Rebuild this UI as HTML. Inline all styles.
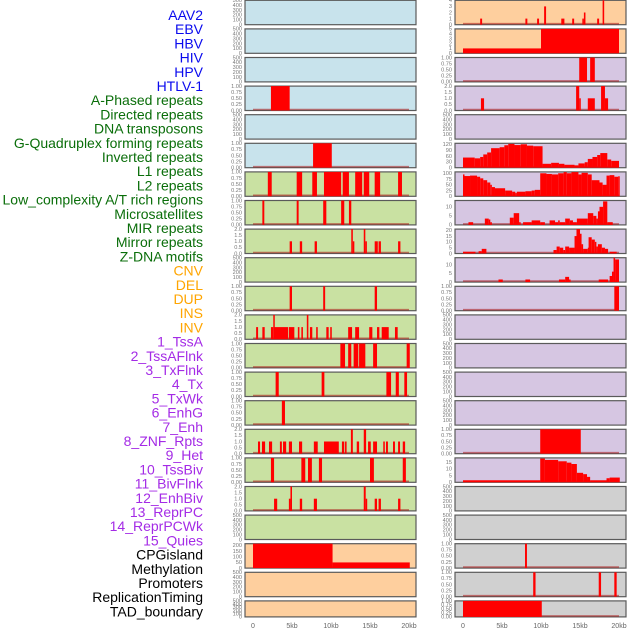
<!DOCTYPE html>
<html><head><meta charset="utf-8"><style>
html,body{margin:0;padding:0;background:#fff;}
svg{display:block;}
text{font-family:"Liberation Sans",sans-serif;}
</style></head><body>
<svg id="chart" width="630" height="630" viewBox="0 0 630 630"></svg>
<script>
const trackLabels = ["AAV2","EBV","HBV","HIV","HPV","HTLV-1","A-Phased repeats","Directed repeats","DNA transposons","G-Quadruplex forming repeats","Inverted repeats","L1 repeats","L2 repeats","Low_complexity A/T rich regions","Microsatellites","MIR repeats","Mirror repeats","Z-DNA motifs","CNV","DEL","DUP","INS","INV","1_TssA","2_TssAFlnk","3_TxFlnk","4_Tx","5_TxWk","6_EnhG","7_Enh","8_ZNF_Rpts","9_Het","10_TssBiv","11_BivFlnk","12_EnhBiv","13_ReprPC","14_ReprPCWk","15_Quies","CPGisland","Methylation","Promoters","ReplicationTiming","TAD_boundary"];
const labelGroups = [6,12,5,15,5];
const xTickLabels = ["0","5kb","10kb","15kb","20kb"];
const xTickValues = [0,5,10,15,20];

const L0=[],L1=[],L2=[],L4=[],L9=[],L18=[],L20=[],L21=[];
const L3=[[2.3,4.7,1]];
const L5=[[7.7,10.1,1]];
const L6=[[1.9,2.4,1],[5.6,6.3,1],[7.6,8.2,1],[9.1,11.3,1],[11.5,12.3,1],[13.1,14.0,1],[14.2,14.9,1],[15.6,16.3,1],[18.6,19.1,1]];
const L7=[[1.2,1.45,1],[5.6,5.85,1],[9.0,9.4,1],[11.3,11.7,1],[12.3,12.6,1]];
const L8=[[4.7,5.0,1],[6.0,6.3,1],[7.9,8.2,1],[12.6,12.8,2],[12.8,12.95,1],[14.2,14.4,2],[14.4,14.6,1],[15.6,16.0,1],[16.1,16.4,1],[18.6,18.9,1]];
const L10=[[4.7,5.0,1],[9.0,9.25,1],[15.6,15.9,1]];
const L11=[[0.4,0.65,1],[1.2,1.5,1],[2.3,2.6,1],[2.6,2.75,2],[2.75,4.5,1],[4.6,5.3,1],[5.75,5.95,1],[6.2,6.4,1],[6.9,7.1,2],[7.3,7.6,1],[8.1,8.3,1],[9.4,9.7,1],[9.9,10.1,1],[12.2,12.7,1],[13.1,13.6,1],[14.9,15.3,1],[15.9,16.2,1],[16.5,17.4,1],[18.2,18.55,1]];
const L12=[[11.2,11.8,1],[12.2,12.6,1],[12.9,13.5,1],[13.6,14.4,1],[15.4,15.9,1],[19.7,20.1,1]];
const L13=[[2.9,3.3,1],[8.8,9.15,1],[17.1,17.7,1],[18.3,18.7,1],[19.4,19.75,1]];
const L14=[[3.7,4.1,1]];
const L15=[[0.64,0.9,1],[1.15,1.55,1],[2.05,2.45,1],[3.45,3.7,1],[3.85,4.25,1],[4.6,5.0,1],[5.9,6.3,1],[7.8,8.3,1],[9.1,11.0,1],[11.4,11.7,1],[11.8,12.0,1],[12.55,12.8,2],[13.3,13.6,1],[14.2,14.5,2],[14.75,15.1,1],[15.4,15.9,1],[16.7,16.9,1],[17.05,17.3,1],[17.95,18.2,1],[18.6,18.85,1],[19.2,19.5,1]];
const L16=[[2.3,2.7,1],[6.2,6.7,1],[7.05,7.55,1],[8.45,8.85,1],[15.0,15.5,1],[19.2,19.6,1]];
const L17=[[2.7,3.1,1],[4.6,4.8,1],[4.8,5.0,2],[6.0,6.3,1],[7.8,8.2,1],[14.2,14.45,2],[14.45,14.6,1],[15.6,15.9,1],[16.1,16.4,1],[18.6,18.9,1]];
const L19=[[0,10.2,215],[10.2,20.1,50]];

const R4=[],R11=[],R12=[],R13=[],R14=[],R17=[],R18=[];
const R0=[[2.2,2.45,1],[8.0,8.25,1],[9.5,9.75,1],[10.4,10.65,3],[12.6,13.0,1],[14.0,14.25,1],[15.3,15.5,1],[15.5,15.7,2],[17.2,17.45,1],[17.9,18.1,4]];
const R1=[[0,10,1],[10,20,5]];
const R2=[[14.9,15.9,1],[16.3,16.9,1]];
const R3=[[2.3,2.7,1],[14.5,14.9,2],[14.9,15.1,1],[16.0,16.9,1],[17.7,18.2,2],[18.2,18.6,1]];
const R5steps=[[0,52],[1.5,48],[2.2,55],[2.6,68],[3.1,78],[3.6,100],[4.7,105],[5.3,115],[5.8,122],[6.6,116],[7.4,120],[8.2,113],[9.0,110],[10.2,20],[11.3,25],[12.3,20],[13.0,15],[14.3,12],[14.8,22],[15.6,28],[16.0,45],[16.6,55],[17.2,65],[17.6,75],[18.5,42],[19.0,35]];
const R6steps=[[0,95],[0.1,88],[0.9,90],[1.8,85],[2.2,78],[2.6,70],[3.1,60],[3.5,50],[3.7,40],[4.1,35],[5.4,25],[6.3,20],[6.7,15],[6.9,20],[8.0,22],[8.8,25],[9.2,28],[9.9,100],[10.7,97],[11.4,95],[12.2,100],[12.9,105],[13.3,100],[13.9,105],[14.8,95],[15.2,102],[16.0,95],[16.5,70],[17.5,60],[17.9,50],[18.4,90],[18.8,92],[19.4,85],[19.9,87]];
const R7=[[0.7,1.3,1.5],[2.8,3.3,3.5],[3.3,3.5,3],[3.5,3.7,1.5],[6.0,6.5,4],[6.5,7.2,6.5],[7.2,7.3,1.5],[7.7,8.8,1.5],[8.8,9.9,2.5],[9.9,10.5,1.5],[11.1,11.8,2.5],[11.8,12.2,1.5],[12.2,12.4,2.5],[12.4,13.1,1.5],[13.1,13.7,3.5],[13.7,14.1,2.5],[14.1,14.6,1.5],[14.6,16.0,3.5],[16.0,16.7,6.5],[16.7,17.1,5],[17.1,17.3,3.5],[17.3,17.5,7.5],[17.5,17.96,10],[17.96,18.5,13],[18.5,19.2,1.5]];
const R8=[[0,1.6,1.5],[2.0,2.4,2],[2.4,3.0,4],[11.6,12.0,3],[12.0,12.4,6],[12.4,12.85,5],[12.85,13.1,3],[13.1,13.6,6],[13.6,14.3,5],[14.3,14.55,15],[14.55,15.0,21],[15.0,15.2,17],[15.2,15.4,8],[15.4,16.0,4],[16.0,16.1,5],[16.1,16.5,14],[16.5,16.9,12],[16.9,17.1,10],[17.1,17.3,6],[17.3,17.8,8],[17.8,18.2,5],[18.2,18.6,4],[18.8,19.7,1.5]];
const R9=[[4.55,5.1,1.5],[8.0,8.6,1.5],[12.3,13.1,1.5],[13.1,13.6,3],[13.6,13.7,1.5],[17.4,18.6,1.5],[18.8,19.1,3.5],[19.1,19.3,6],[19.3,19.5,14],[19.5,20,13]];
const R10=[[19.4,20,1]];
const R15=[[9.9,15.1,1]];
const R16=[[0,9.9,1.5],[9.9,10.5,17.5],[10.5,12.2,16.5],[12.2,13.3,15.5],[13.3,13.9,14.5],[13.9,14.6,13.5],[14.6,15.4,7],[15.4,15.9,6],[15.9,16.3,4],[16.3,18.4,1.5],[18.4,18.8,3],[18.8,20.1,3.5]];
const R19=[[7.95,8.2,1]];
const R20=[[9.0,9.3,1],[17.4,17.7,1],[19.4,19.7,1]];
const R21=[[0,10.1,1]];

const ticksEmpty=[0,100,200,300,400,500];
const ticksOne=[0,0.25,0.5,0.75,1];
const ticksTwo=[0,0.5,1,1.5,2];

const svg=document.getElementById('chart');
const NS='http://www.w3.org/2000/svg';
function mk(tag,attrs,parent){const e=document.createElementNS(NS,tag);for(const k in attrs)e.setAttribute(k,attrs[k]);(parent||svg).appendChild(e);return e;}
function stepsToSegs(st){const out=[];for(let i=0;i<st.length;i++){const e=i+1<st.length?st[i+1][0]:20;out.push([st[i][0],e,st[i][1]]);}return out;}

const colX={L:245,R:455}, panelW=171, pxPerKb=7.8, kbOff=8;
const pitch=28.6;
function rowTop(r){return 0.3+pitch*r;}
function rowH(r){return r===21?16:24.4;}
function xScale(col,kb){return colX[col]+kbOff+kb*pxPerKb;}

function fmtTick(t,kind){ if(kind==='one')return t.toFixed(2); if(kind==='two')return t.toFixed(1); return String(t);}

const leftBg=r=> r<6?'#c8e3ec':(r<19?'#c9e1a2':'#fecf9e');
const rightBg=r=> r<2?'#fecf9e':(r<17?'#d6c6e2':'#d0d0d0');

const leftPanels=[
 [L0,500,ticksEmpty,'e'],[L1,500,ticksEmpty,'e'],[L2,500,ticksEmpty,'e'],[L3,1,ticksOne,'one'],[L4,500,ticksEmpty,'e'],[L5,1,ticksOne,'one'],
 [L6,1,ticksOne,'one'],[L7,1,ticksOne,'one'],[L8,2,ticksTwo,'two'],[L9,500,ticksEmpty,'e'],[L10,1,ticksOne,'one'],[L11,2,ticksTwo,'two'],
 [L12,1,ticksOne,'one'],[L13,1,ticksOne,'one'],[L14,1,ticksOne,'one'],[L15,2,ticksTwo,'two'],[L16,1,ticksOne,'one'],[L17,2,ticksTwo,'two'],
 [L18,500,ticksEmpty,'e'],[L19,215,[0,50,100,150,200],'n'],[L20,500,ticksEmpty,'e'],[L21,500,ticksEmpty,'e']];
const rightPanels=[
 [R0,4,[0,1,2,3,4],'n'],[R1,5,[0,1,2,3,4,5],'n'],[R2,1,ticksOne,'one'],[R3,2,ticksTwo,'two'],[R4,500,ticksEmpty,'e'],
 [stepsToSegs(R5steps),125,[0,30,60,90,120],'n'],[stepsToSegs(R6steps),106,[0,25,50,75,100],'n'],[R7,13.5,[0,5,10],'n'],
 [R8,21,[0,5,10,15,20],'n'],[R9,14,[0,5,10],'n'],[R10,1,ticksOne,'one'],[R11,500,ticksEmpty,'e'],[R12,500,ticksEmpty,'e'],
 [R13,500,ticksEmpty,'e'],[R14,500,ticksEmpty,'e'],[R15,1,ticksOne,'one'],[R16,18,[0,5,10,15],'n'],[R17,500,ticksEmpty,'e'],
 [R18,500,ticksEmpty,'e'],[R19,1,ticksOne,'one'],[R20,1,ticksOne,'one'],[R21,1,ticksOne,'one']];

function drawPanel(col,r,p){
 const [segs,ymax,ticks,kind]=p;
 const top=rowTop(r),h=rowH(r),x0=colX[col];
 const g=mk('g',{});
 
 
 const bg=mk('rect',{x:x0,y:top,width:panelW,height:h,fill:col==='L'?leftBg(r):rightBg(r),stroke:'#5a5a5a','stroke-width':1.2},g);
 
 
 const yS=v=>top+h-(v/ymax)*h;
 ticks.forEach(t=>{
  const tx=mk('text',{x:x0-3,y:yS(t)+1.8,'font-size':5.6,fill:'#777','text-anchor':'end'},g);
  tx.textContent=fmtTick(t,kind);
  
  
 });
 if(segs.length){
  const bl=mk('line',{x1:xScale(col,0),x2:xScale(col,20),y1:top+h-1,y2:top+h-1,stroke:'rgba(170,20,20,0.55)','stroke-width':1.6},g);
  
  
 }
 segs.forEach(s=>{
  const xa=xScale(col,s[0]),xb=xScale(col,s[1]);
  const y=Math.max(top,yS(s[2]));
  const b=mk('rect',{x:xa,y:y,width:Math.max(1.5,xb-xa),height:top+h-y,fill:'#ff0000'},g);
  
  
 });
}
leftPanels.forEach((p,r)=>drawPanel('L',r,p));
rightPanels.forEach((p,r)=>drawPanel('R',r,p));

['L','R'].forEach(col=>{
 xTickValues.forEach((v,i)=>{
  const t=mk('text',{x:xScale(col,v),y:628,'font-size':7,fill:'#666','text-anchor':'middle'});
  t.textContent=xTickLabels[i];
  
  
 });
});

const groupColors=['#0a0aee','#0a6e0a','#ffa500','#a42be6','#000000'];
let gi=0,cnt=0;
trackLabels.forEach((lab,i)=>{
 while(cnt>=labelGroups[gi]){gi++;cnt=0;}
 cnt++;
 const t=mk('text',{x:203,y:20+i*14.2,'font-size':14,fill:groupColors[gi],'text-anchor':'end'});
 t.textContent=lab;
 
 
});
</script>
</body></html>
